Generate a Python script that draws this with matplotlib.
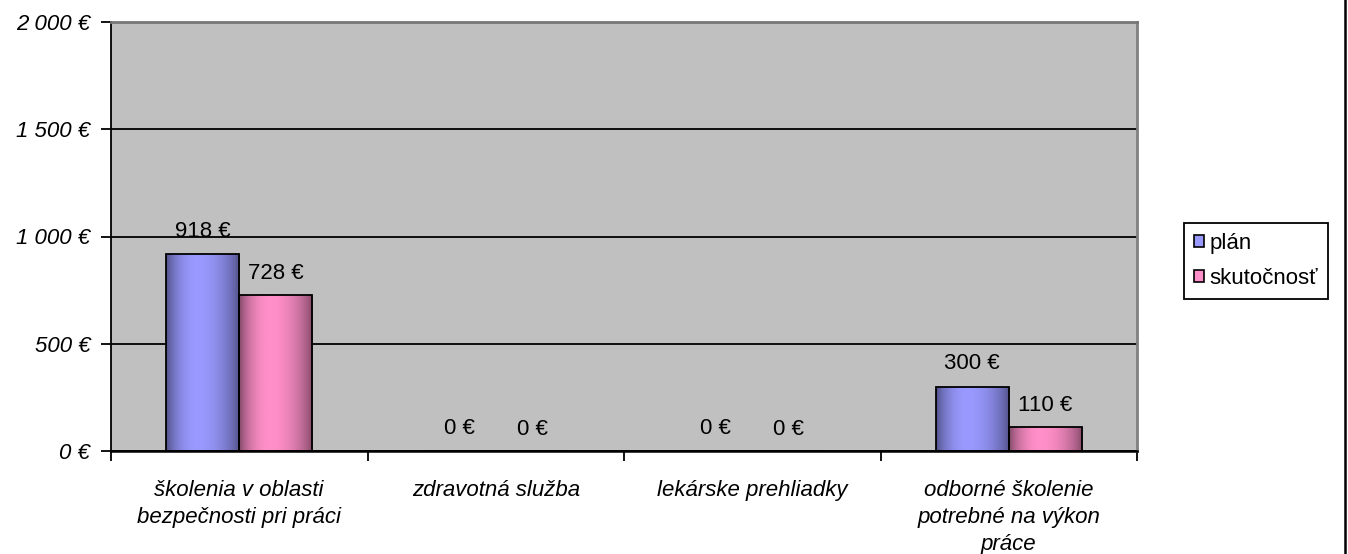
import numpy as np
import matplotlib
matplotlib.use("Agg")
import matplotlib.pyplot as plt
from matplotlib.patches import Patch
from matplotlib.lines import Line2D
from matplotlib.ticker import FuncFormatter, FixedLocator
from matplotlib.colors import LinearSegmentedColormap

plt.rcParams['font.family'] = ['Liberation Sans', 'DejaVu Sans']

# data
categories = ["školenia v oblasti\nbezpečnosti pri práci",
              "zdravotná služba",
              "lekárske prehliadky",
              "odborné školenie\npotrebné na výkon\npráce"]
plan = [918, 0, 0, 300]
skutocnost = [728, 0, 0, 110]
series_names = ["plán", "skutočnosť"]

# colours: (dark edge, light centre)
blue_dark, blue_light = "#4c4c80", "#9999ff"
pink_dark, pink_light = "#7a4562", "#ff8fc8"

FS = 16


def eur(v, pos=None):
    return f"{int(round(v)):,} €".replace(",", " ")


def shade(ax, bars, dark, light):
    # horizontal dark-light-dark gradient like the old Excel bars
    cmap = LinearSegmentedColormap.from_list("g", [dark, light])
    t = np.linspace(0, 1, 200)
    f = np.where(t < 0.42, np.sin(t / 0.42 * np.pi / 2),
                 np.cos((t - 0.42) / 0.58 * np.pi / 2))
    f = f ** 0.7
    grad = f[np.newaxis, :]
    for b in bars:
        x0, w, h = b.get_x(), b.get_width(), b.get_height()
        if h <= 0:
            continue
        im = ax.imshow(grad, cmap=cmap, vmin=0, vmax=1, aspect="auto",
                       extent=[x0, x0 + w, 0, h], zorder=2,
                       interpolation="bilinear")
        im.set_clip_path(b)


fig = plt.figure(figsize=(13.48, 5.54), dpi=100)
ax = fig.add_axes([111 / 1348, 103 / 554, 1026 / 1348, 429 / 554])
ax.set_facecolor("#c0c0c0")

x = np.arange(len(categories))
w = 0.285
b1 = ax.bar(x - w / 2, plan, w, color=blue_light, edgecolor="black",
            linewidth=1.3, zorder=3)
b2 = ax.bar(x + w / 2, skutocnost, w, color=pink_light, edgecolor="black",
            linewidth=1.3, zorder=3)
for b in list(b1) + list(b2):
    b.set_facecolor("none")
shade(ax, b1, blue_dark, blue_light)
shade(ax, b2, pink_dark, pink_light)

ax.bar_label(b1, labels=[eur(v) for v in plan], padding=9, fontsize=FS,
             zorder=4)
ax.bar_label(b2, labels=[eur(v) for v in skutocnost], padding=8, fontsize=FS,
             zorder=4)

ax.set_xlim(-0.5, len(categories) - 0.5)
ax.set_ylim(0, 2000)

# y axis
ax.set_yticks([0, 500, 1000, 1500, 2000])
ax.yaxis.set_major_formatter(FuncFormatter(eur))
ax.grid(axis="y", color="black", linewidth=1.3, zorder=1)
ax.set_axisbelow(True)
ax.tick_params(axis="y", length=7, width=1.3, labelsize=FS, pad=8)
for lab in ax.get_yticklabels():
    lab.set_fontstyle("italic")

# x axis: tick marks between categories, labels at centres
ax.xaxis.set_major_locator(FixedLocator(np.arange(-0.5, len(categories), 1.0)))
ax.xaxis.set_minor_locator(FixedLocator(x))
ax.set_xticklabels([])
ax.set_xticklabels(categories, minor=True, fontsize=FS, style="italic",
                   linespacing=1.38)
ax.tick_params(axis="x", which="major", length=7, width=1.3)
ax.tick_params(axis="x", which="minor", length=0, pad=21)

ax.spines["left"].set_color("black")
ax.spines["left"].set_linewidth(1.3)
ax.spines["bottom"].set_color("black")
ax.spines["bottom"].set_linewidth(1.8)
ax.spines["top"].set_color("#777777")
ax.spines["top"].set_linewidth(2)
ax.spines["right"].set_color("#808080")
ax.spines["right"].set_linewidth(2)

handles = [Patch(facecolor=blue_light, edgecolor="black", linewidth=1.2),
           Patch(facecolor=pink_light, edgecolor="black", linewidth=1.2)]
leg = fig.legend(handles, series_names, loc="center left",
                 bbox_to_anchor=(1184 / 1348, (554 - 261) / 554),
                 fontsize=FS, frameon=True, fancybox=False, framealpha=1,
                 edgecolor="black", handlelength=0.45, handleheight=0.45,
                 handletextpad=0.25, borderpad=0.45, labelspacing=0.65,
                 borderaxespad=0)
leg.get_frame().set_linewidth(1.3)

# right border of the chart
fig.add_artist(Line2D([1345 / 1348, 1345 / 1348], [0, 1], color="black",
                      linewidth=1.8))

fig.savefig("out.png", dpi=100)
